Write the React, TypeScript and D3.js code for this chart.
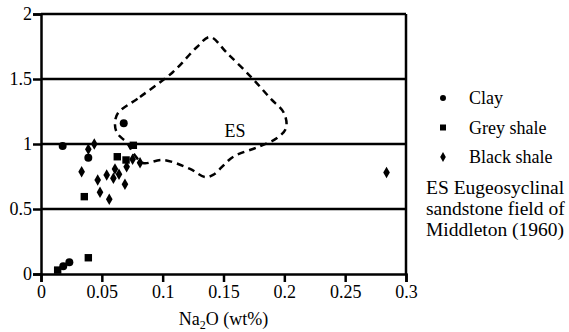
import React, { useEffect, useRef } from "react";
import * as d3 from "d3";

const WIDTH = 569;
const HEIGHT = 332;
const MARGIN = { top: 14, right: 163, bottom: 58, left: 41 };

const xTicks = [0, 0.05, 0.1, 0.15, 0.2, 0.25, 0.3];
const yTicks = [0, 0.5, 1, 1.5, 2];

// Na2O (wt%), value
const clay: [number, number][] = [
  [0.0178, 0.985],
  [0.0389, 0.895],
  [0.068, 1.16],
  [0.0183, 0.06],
  [0.0233, 0.09],
];

const greyShale: [number, number][] = [
  [0.0759, 0.99],
  [0.0627, 0.902],
  [0.0699, 0.877],
  [0.0356, 0.595],
  [0.0137, 0.03],
  [0.0389, 0.125],
];

const blackShale: [number, number][] = [
  [0.0389, 0.96],
  [0.0438, 1.0],
  [0.0753, 0.882],
  [0.0814, 0.856],
  [0.0704, 0.825],
  [0.0608, 0.808],
  [0.0334, 0.787],
  [0.054, 0.762],
  [0.0641, 0.767],
  [0.0595, 0.736],
  [0.0466, 0.723],
  [0.069, 0.69],
  [0.0485, 0.628],
  [0.0561, 0.575],
  [0.284, 0.78],
];

// Eugeosynclinal sandstone field outline
const esField: [number, number][] = [
  [0.0633, 1.238],
  [0.0814, 1.362],
  [0.1085, 1.554],
  [0.1282, 1.746],
  [0.1389, 1.823],
  [0.1529, 1.7],
  [0.1734, 1.508],
  [0.1882, 1.354],
  [0.1997, 1.238],
  [0.2014, 1.123],
  [0.194, 1.046],
  [0.1784, 0.977],
  [0.1578, 0.9],
  [0.1414, 0.762],
  [0.1348, 0.746],
  [0.1225, 0.808],
  [0.1003, 0.877],
  [0.0838, 0.854],
  [0.0764, 0.923],
  [0.0707, 1.008],
  [0.0625, 1.085],
  [0.0608, 1.162],
];

const legendItems = ["Clay", "Grey shale", "Black shale"];
const noteLines = ["ES Eugeosyclinal", "sandstone field of", "Middleton (1960)"];

const FONT = "Liberation Serif, DejaVu Serif, Times New Roman, serif";

const App: React.FC = () => {
  const svgRef = useRef<SVGSVGElement | null>(null);

  useEffect(() => {
    const svgEl = svgRef.current;
    if (!svgEl) return;
    const svg = d3.select(svgEl);
    svg.selectAll("*").remove();

    const w = WIDTH - MARGIN.left - MARGIN.right;
    const h = HEIGHT - MARGIN.top - MARGIN.bottom;

    const x = d3.scaleLinear().domain([0, 0.3]).range([0, w]);
    const y = d3.scaleLinear().domain([0, 2]).range([h, 0]);

    const g = svg
      .append("g")
      .attr("transform", `translate(${MARGIN.left},${MARGIN.top})`);

    // horizontal grid lines
    g.selectAll(".grid")
      .data(yTicks.filter((d) => d > 0))
      .enter()
      .append("line")
      .attr("x1", 0)
      .attr("x2", w)
      .attr("y1", (d) => y(d))
      .attr("y2", (d) => y(d))
      .attr("stroke", "#000")
      .attr("stroke-width", 2.5);

    // right border
    g.append("line")
      .attr("x1", w)
      .attr("x2", w)
      .attr("y1", 0)
      .attr("y2", h)
      .attr("stroke", "#000")
      .attr("stroke-width", 2.5);

    const xAxis = d3
      .axisBottom(x)
      .tickValues(xTicks)
      .tickSize(8)
      .tickPadding(3)
      .tickFormat((d) => String(d));
    const yAxis = d3
      .axisLeft(y)
      .tickValues(yTicks)
      .tickSize(8)
      .tickPadding(1)
      .tickFormat((d) => String(d));

    const styleAxis = (sel: d3.Selection<SVGGElement, unknown, null, undefined>) => {
      sel.attr("font-family", FONT).attr("font-size", 18);
      sel.selectAll(".domain").attr("stroke", "#000").attr("stroke-width", 2.5);
      sel.selectAll(".tick line").attr("stroke", "#000").attr("stroke-width", 2.5);
      sel.selectAll(".tick text").attr("fill", "#000");
    };

    g.append("g")
      .attr("transform", `translate(0,${h})`)
      .call(xAxis)
      .call(styleAxis);

    g.append("g").call(yAxis).call(styleAxis);

    // x axis title
    const title = g
      .append("text")
      .attr("x", w / 2)
      .attr("y", h + 51)
      .attr("text-anchor", "middle")
      .attr("font-family", FONT)
      .attr("font-size", 18)
      .attr("fill", "#000");
    title.append("tspan").text("Na");
    title
      .append("tspan")
      .attr("dy", 4)
      .attr("font-size", 12)
      .text("2");
    title.append("tspan").attr("dy", -4).text("O (wt%)");

    // ES field outline
    const line = d3
      .line<[number, number]>()
      .x((d) => x(d[0]))
      .y((d) => y(d[1]))
      .curve(d3.curveCatmullRomClosed.alpha(0.5));

    g.append("path")
      .datum(esField)
      .attr("d", line)
      .attr("fill", "none")
      .attr("stroke", "#000")
      .attr("stroke-width", 2.5)
      .attr("stroke-dasharray", "7,5");

    g.append("text")
      .attr("x", x(0.1594))
      .attr("y", y(1.054))
      .attr("text-anchor", "middle")
      .attr("font-family", FONT)
      .attr("font-size", 18)
      .attr("fill", "#000")
      .text("ES");

    const circle = d3.symbol().type(d3.symbolCircle).size(50);
    const square = d3.symbol().type(d3.symbolSquare).size(55);
    const diamond = d3.symbol().type(d3.symbolDiamond).size(38);

    const drawPoints = (data: [number, number][], sym: d3.Symbol<any, any>) => {
      g.append("g")
        .selectAll("path")
        .data(data)
        .enter()
        .append("path")
        .attr("transform", (d) => `translate(${x(d[0])},${y(d[1])})`)
        .attr("d", sym as any)
        .attr("fill", "#000");
    };
    drawPoints(clay, circle);
    drawPoints(greyShale, square);
    drawPoints(blackShale, diamond);

    // legend
    const legendSymbols = [
      d3.symbol().type(d3.symbolCircle).size(28),
      d3.symbol().type(d3.symbolSquare).size(36),
      d3.symbol().type(d3.symbolDiamond).size(28),
    ];
    const legend = svg
      .append("g")
      .attr("font-family", FONT)
      .attr("font-size", 18)
      .attr("fill", "#000");
    legendItems.forEach((label, i) => {
      const cy = 98 + i * 29.5;
      legend
        .append("path")
        .attr("transform", `translate(443,${cy})`)
        .attr("d", legendSymbols[i] as any);
      legend
        .append("text")
        .attr("x", 469)
        .attr("y", cy + 6)
        .text(label);
    });

    noteLines.forEach((t, i) => {
      legend
        .append("text")
        .attr("x", 426)
        .attr("y", 194 + i * 21)
        .attr("font-size", 19.5)
        .text(t);
    });
  }, []);

  return (
    <div>
      <svg
        ref={svgRef}
        width={WIDTH}
        height={HEIGHT}
        style={{ position: "absolute", left: 0, top: 0, background: "#fff" }}
      />
    </div>
  );
};

export default App;
